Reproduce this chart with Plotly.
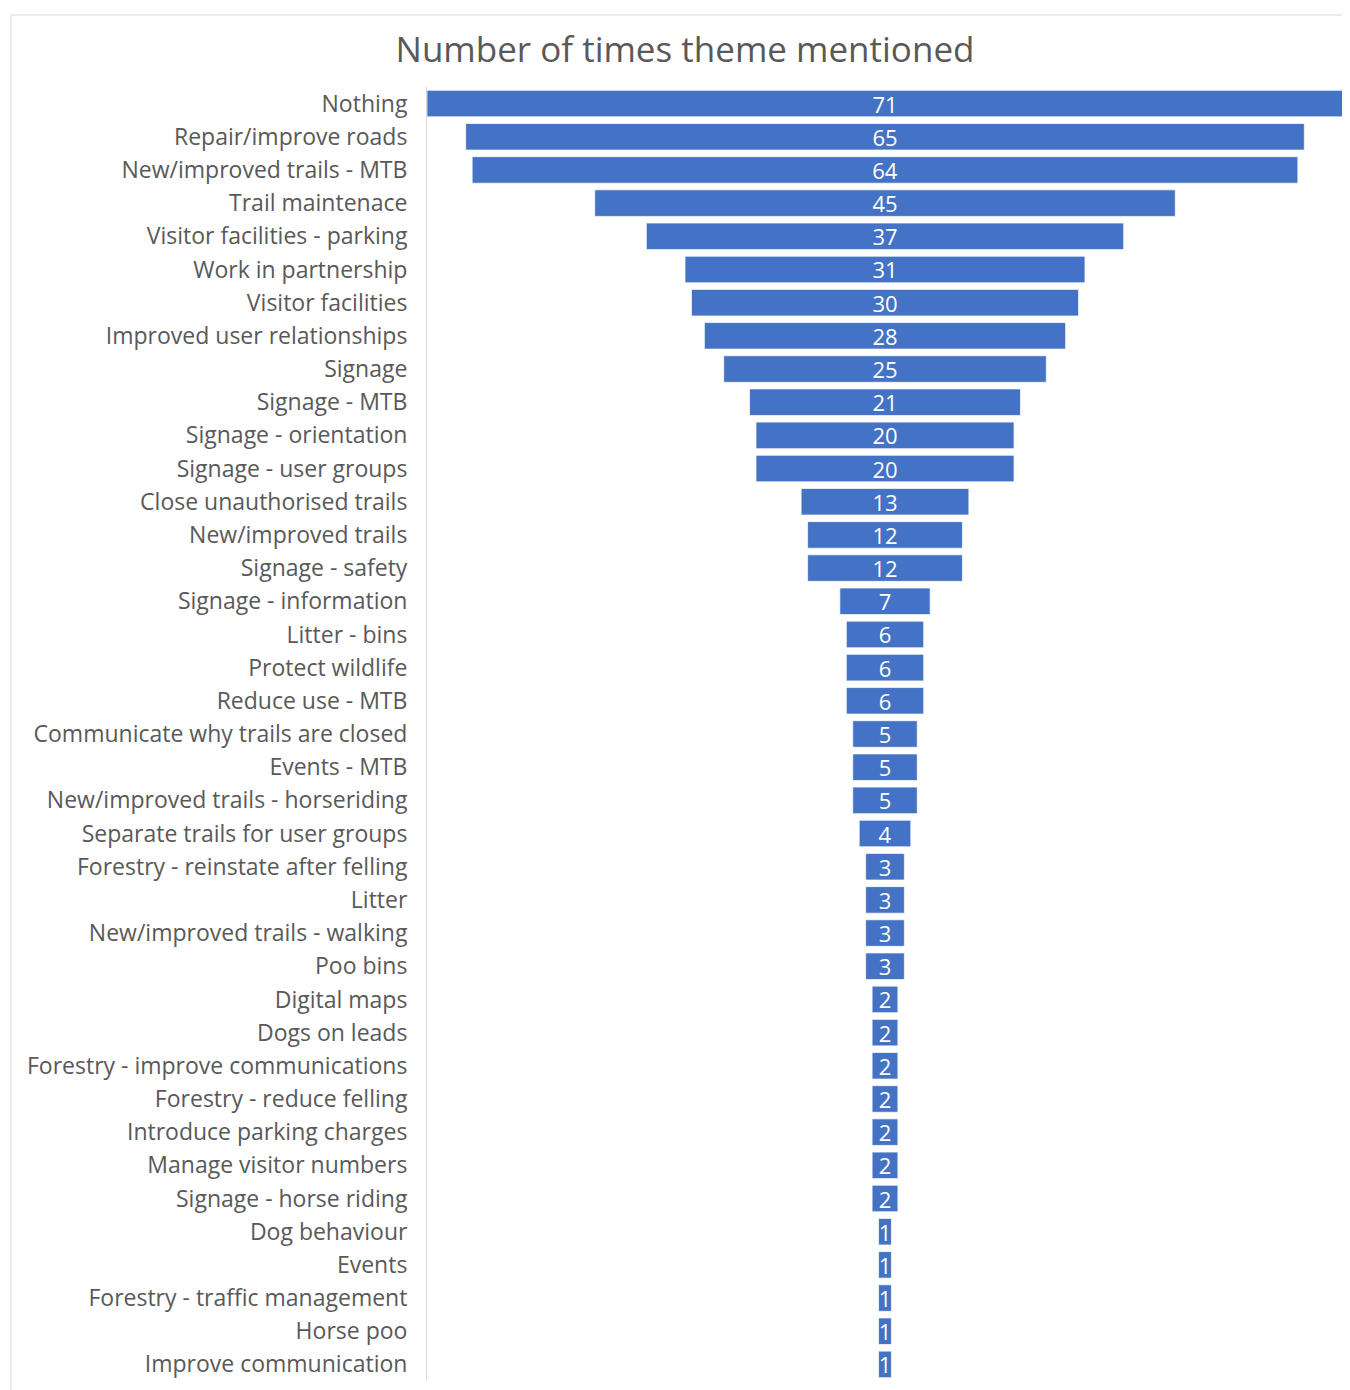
import plotly.graph_objects as go

themes = [
    "Nothing", "Repair/improve roads", "New/improved trails - MTB", "Trail maintenace",
    "Visitor facilities - parking", "Work in partnership", "Visitor facilities",
    "Improved user relationships", "Signage", "Signage - MTB", "Signage - orientation",
    "Signage - user groups", "Close unauthorised trails", "New/improved trails",
    "Signage - safety", "Signage - information", "Litter - bins", "Protect wildlife",
    "Reduce use - MTB", "Communicate why trails are closed", "Events - MTB",
    "New/improved trails - horseriding", "Separate trails for user groups",
    "Forestry - reinstate after felling", "Litter", "New/improved trails - walking",
    "Poo bins", "Digital maps", "Dogs on leads", "Forestry - improve communications",
    "Forestry - reduce felling", "Introduce parking charges", "Manage visitor numbers",
    "Signage - horse riding", "Dog behaviour", "Events", "Forestry - traffic management",
    "Horse poo", "Improve communication",
]
mentions = [71, 65, 64, 45, 37, 31, 30, 28, 25, 21, 20, 20, 13, 12, 12, 7, 6, 6, 6,
            5, 5, 5, 4, 3, 3, 3, 3, 2, 2, 2, 2, 2, 2, 2, 1, 1, 1, 1, 1]

FONT = "'Open Sans', Lato, sans-serif"
GREY = "#595959"

W, H = 1342, 1382
L, R, T, B = 419, 7, 79, 9
PW, PH = W - L - R, H - T - B

fig = go.Figure(go.Funnel(
    y=themes,
    x=mentions,
    textinfo="value",
    textposition="inside",
    textangle=0,
    constraintext="none",
    insidetextfont=dict(color="white", size=22, family=FONT),
    marker=dict(color="#4472C4", line=dict(color="rgba(255,255,255,0.7)", width=1)),
    connector=dict(visible=False),
))

half = max(mentions) / 2
bx = (3 - L) / PW
by = 1 + (T - 7) / PH
fig.update_layout(
    width=W, height=H,
    paper_bgcolor="white", plot_bgcolor="white",
    margin=dict(l=L, r=R, t=T, b=B),
    bargap=0.1,
    showlegend=False,
    title=dict(text="Number of times theme mentioned", x=677 / W, xanchor="center",
               y=1 - 42 / H, yanchor="middle",
               font=dict(family=FONT, size=35, color=GREY)),
    xaxis=dict(visible=False, range=[-half, half]),
    yaxis=dict(showline=True, linecolor="#d9d9d9", linewidth=1,
               tickfont=dict(family=FONT, size=23, color=GREY),
               ticks="", ticklabelstandoff=14),
    shapes=[
        dict(type="line", xref="paper", yref="paper", x0=bx, x1=1.05,
             y0=by, y1=by, line=dict(color="#d9d9d9", width=1)),
        dict(type="line", xref="paper", yref="paper", x0=bx, x1=bx,
             y0=-0.05, y1=by, line=dict(color="#d9d9d9", width=1)),
    ],
)

fig.write_html("out.html")
